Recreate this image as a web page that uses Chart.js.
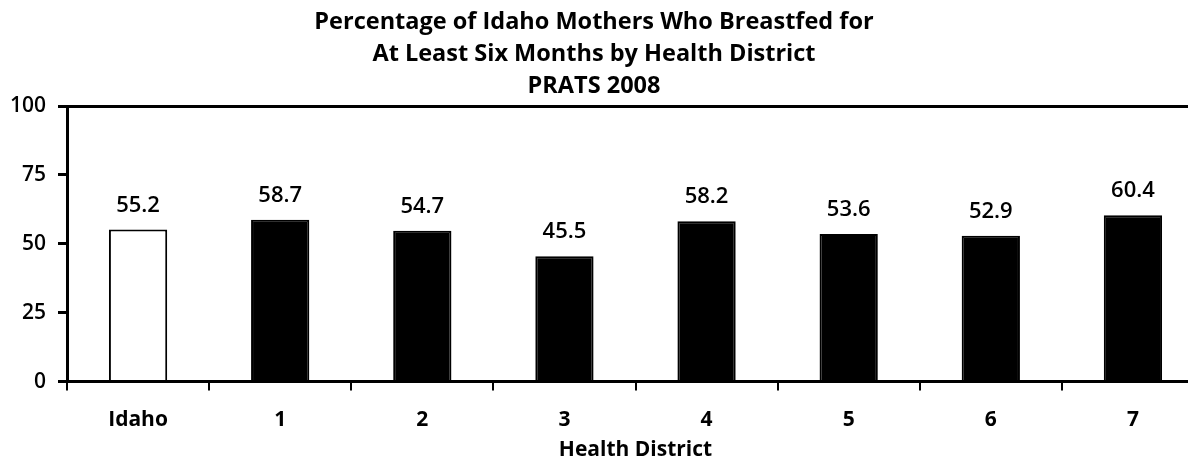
<!DOCTYPE html>
<html>
<head>
<meta charset="utf-8">
<script src="https://cdn.jsdelivr.net/npm/chart.js@4"></script>
<style>
  body { margin: 0; background: #fff; overflow: hidden; }
  #wrap { width: 1204px; height: 457px; }
</style>
</head>
<body>
<div id="wrap"><canvas id="myChart"></canvas></div>
<script>
// Districts and the share of mothers breastfeeding for six months or more
const districts = ['Idaho', '1', '2', '3', '4', '5', '6', '7'];
const percents = [55.2, 58.7, 54.7, 45.5, 58.2, 53.6, 52.9, 60.4];
const yTicks = [0, 25, 50, 75, 100];
const titleLines = [
  'Percentage of Idaho Mothers Who Breastfed for',
  'At Least Six Months by Health District',
  'PRATS 2008',
];

const FONT = '"Open Sans", "Liberation Sans", sans-serif';

// State total is drawn hollow, districts solid
const fills = districts.map((d, i) => (i === 0 ? '#ffffff' : '#000000'));

// Writes each value above its bar
const valueLabels = {
  id: 'valueLabels',
  afterDatasetsDraw(chart) {
    const c = chart.ctx;
    const meta = chart.getDatasetMeta(0);
    c.save();
    c.fillStyle = '#000';
    c.font = '600 22px ' + FONT;
    c.textAlign = 'center';
    c.textBaseline = 'middle';
    meta.data.forEach((bar, i) => {
      c.fillText(percents[i].toFixed(1), bar.x, bar.y - 24);
    });
    c.restore();
  },
};

// Three-line heading, centred on the visible page width
const heading = {
  id: 'heading',
  afterDraw(chart) {
    const c = chart.ctx;
    c.save();
    c.fillStyle = '#000';
    c.font = 'bold 23.5px ' + FONT;
    c.textAlign = 'center';
    c.textBaseline = 'middle';
    titleLines.forEach((line, i) => {
      c.fillText(line, 594, 22 + i * 32);
    });
    c.restore();
  },
};

const ctx = document.getElementById('myChart').getContext('2d');
const chart = new Chart(ctx, {
  type: 'bar',
  data: {
    labels: districts,
    datasets: [{
      data: percents,
      backgroundColor: fills,
      borderColor: '#000',
      borderWidth: 2,
      barPercentage: 0.41,
      categoryPercentage: 1,
    }],
  },
  options: {
    responsive: true,
    maintainAspectRatio: false,
    animation: false,
    layout: { padding: { top: 106, left: 0, right: 0, bottom: 0 } },
    plugins: {
      legend: { display: false },
      tooltip: { enabled: false },
      title: { display: false },
    },
    scales: {
      x: {
        offset: true,
        grid: {
          offset: true,
          color: 'transparent',
          tickColor: '#000',
          tickLength: 9,
          lineWidth: 2,
        },
        border: { color: '#000', width: 3 },
        ticks: {
          color: '#000',
          font: { family: FONT, size: 21, weight: 'bold' },
          padding: 17,
        },
        title: {
          display: true,
          text: 'Health District',
          color: '#000',
          font: { family: FONT, size: 21, weight: 'bold' },
          padding: { top: -12, bottom: -6 },
        },
      },
      y: {
        min: 0,
        max: 100,
        afterBuildTicks(scale) {
          scale.ticks = yTicks.map(v => ({ value: v }));
        },
        afterFit(scale) {
          scale.width = 67;
        },
        grid: {
          color: c => (c.tick && c.tick.value === 100 ? '#000' : 'transparent'),
          tickColor: '#000',
          tickLength: 9,
          lineWidth: 3,
        },
        border: { color: '#000', width: 3 },
        ticks: {
          color: '#000',
          font: { family: FONT, size: 21, weight: '600' },
          padding: 12,
        },
      },
    },
  },
  plugins: [valueLabels, heading],
});
</script>
</body>
</html>
